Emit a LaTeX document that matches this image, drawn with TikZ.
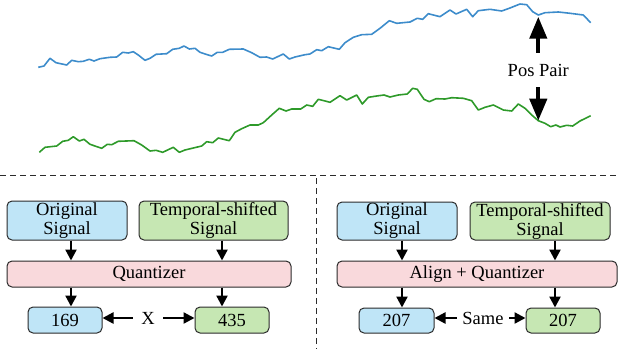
\documentclass[tikz,border=0pt]{standalone}
\usepackage{fontspec}
\setmainfont{Liberation Serif}
\newfontfamily\figfont{Liberation Serif}
\usepackage{tikz}
\usetikzlibrary{arrows.meta}

\definecolor{boxblue}{HTML}{BFE5F7}
\definecolor{boxgreen}{HTML}{C6E7B3}
\definecolor{boxpink}{HTML}{F9D9DC}
\definecolor{sigblue}{HTML}{3D8CCB}
\definecolor{siggreen}{HTML}{2E9A2A}
\definecolor{edge}{HTML}{2B2B2B}

\tikzset{
  box/.style={draw=edge, line width=1pt, rounded corners=5pt, align=center,
    inner sep=0pt, font=\figfont\fontsize{18.5}{19}\selectfont},
  origbox/.style={box, fill=boxblue},
  shiftbox/.style={box, fill=boxgreen},
  quantbox/.style={box, fill=boxpink},
  lbl/.style={inner sep=0pt, font=\figfont\fontsize{18.5}{19}\selectfont},
  arr/.style={line width=2.3pt, -{Triangle[width=11pt,length=11pt]}},
  bigarr/.style={line width=4.2pt, -{Triangle[width=17pt,length=22pt]}},
  sep/.style={draw=edge, line width=1pt, dash pattern=on 6pt off 4pt},
  sigline/.style={line width=1.6pt, line join=round}
}

\begin{document}
\begin{tikzpicture}[x=1pt,y=-1pt]
  \useasboundingbox (0,0) rectangle (619,349);

  % signals
  \draw[sigline, sigblue] plot coordinates {(38.3,67.3) (44,66) (50,58.3) (56,62.7) (66.7,65) (71.7,60.3) (78.3,61.7) (83.3,61.3) (89.3,59.3) (94,61) (100,58.7) (110,57.3) (116.7,57) (122.7,52.3) (128.3,53) (133.3,51.7) (138.3,55) (145,60.3) (150,58.3) (156,54.3) (166.7,53.7) (172.7,49.3) (179.3,48.3) (184,46) (189.3,49) (195,48.3) (200,52.3) (206,54.3) (211.7,56) (217.3,52.3) (222.7,52.3) (229.3,49.3) (243.3,49) (251.7,52.7) (260,57.3) (266.7,57) (272.7,59) (283.3,54) (289.3,59) (295,57) (305,54.7) (310,54) (316.7,49.7) (321.7,50.7) (328.3,46.7) (339.3,49.3) (345,42.7) (353.3,37.3) (361.7,34.7) (371.7,34.3) (380,28.3) (389.3,20.7) (396.7,23.3) (410,22) (417.3,18.3) (422.7,19.3) (428.3,13.7) (440,16.7) (450,10) (456,14) (466.7,9.3) (472.7,16.7) (478.3,10.7) (490,9.3) (501.7,11) (510,8) (520,4) (526.7,4.7) (532.7,11.7) (538.3,15) (545,12.7) (558.3,12) (570,13.3) (583.3,15) (590.7,22.7)};
  \draw[sigline, siggreen] plot coordinates {(39.3,152.3) (45,147.3) (56.7,146) (62.7,141.3) (68.3,140.3) (73.3,136.7) (79.3,141) (84,139.3) (90,144.3) (101.7,148.3) (107.3,144.3) (111.7,144.7) (118.3,141.3) (134,140.7) (141.7,145) (150,151) (156,150.3) (162.7,152.3) (173.3,147.3) (179.3,152.3) (185,150) (193.3,148) (201.7,146) (206.7,141.7) (212.7,142.7) (218.3,138) (229.3,140.7) (235,132.3) (241.7,128.7) (250,125) (258.3,125) (263.3,122.7) (271.7,115) (279.3,108.3) (286,111) (291.7,109) (300.7,109) (306.7,105) (312.7,106.3) (318.3,99.3) (324,100.7) (330,102.3) (340,95.7) (346.7,100) (356.7,95) (362.3,104) (368.3,97.3) (376.7,96) (384,95) (390,97) (398.3,95) (407.3,94) (412.7,88.3) (417.3,89.3) (424,99.3) (429.3,101.7) (436,98.7) (445,99) (451.7,97.7) (463.3,98.3) (471.7,100.7) (478.3,110) (485,107.3) (493.3,105) (503.3,110) (511.7,111) (518.3,104) (525,108.3) (531.7,115) (538.3,120.7) (545,123.3) (550.7,126.7) (556,125) (560,127) (566.7,125.3) (572.7,126) (580,121) (590.7,115.7)};

  \coordinate (blueDip) at (538.3,16.7);
  \coordinate (greenDip) at (538.3,120.7);
  \node[lbl, minimum height=34pt] (pos) at (538.3,70) {Pos Pair};
  \draw[bigarr] (pos.north) -- (blueDip);
  \draw[bigarr] (pos.south) -- (greenDip);

  % separators
  \coordinate (sepW) at (0,175);
  \coordinate (sepE) at (619,175);
  \coordinate (sepN) at (316,178);
  \coordinate (sepS) at (316,349);
  \draw[sep] (sepW) -- (sepE);
  \draw[sep] (sepN) -- (sepS);

  % left: plain quantizer
  \node[origbox, minimum width=120pt, minimum height=39pt] (origL) at (67,220.5) {Original\\Signal};
  \node[shiftbox, minimum width=149pt, minimum height=39pt] (shiftL) at (213.5,220.5) {Temporal-shifted\\Signal};
  \node[quantbox, minimum width=284pt, minimum height=26pt] (quantL) at (149,274) {Quantizer};
  \node[origbox, minimum width=74pt, minimum height=26pt] (codeA) at (65,320) {169};
  \node[shiftbox, minimum width=74pt, minimum height=26pt] (codeB) at (232,320) {435};
  \node[lbl, minimum width=30pt] (diff) at (148,318) {X};

  \draw[arr] (origL.south -| 71,0) -- (quantL.north -| 71,0);
  \draw[arr] (shiftL.south -| 222,0) -- (quantL.north -| 222,0);
  \draw[arr] (quantL.south -| 71,0) -- (codeA.north -| 71,0);
  \draw[arr] (quantL.south -| 222,0) -- (codeB.north -| 222,0);
  \draw[arr] (diff.west) -- (diff.west -| codeA.east);
  \draw[arr] (diff.east) -- (diff.east -| codeB.west);

  % right: align + quantizer
  \node[origbox, minimum width=120pt, minimum height=38pt] (origR) at (397,221) {Original\\Signal};
  \node[shiftbox, minimum width=140pt, minimum height=38pt] (shiftR) at (540,221) {Temporal-shifted\\Signal};
  \node[quantbox, minimum width=280pt, minimum height=26pt] (quantR) at (477,274) {Align + Quantizer};
  \node[origbox, minimum width=75pt, minimum height=25pt] (codeC) at (396.5,320.5) {207};
  \node[shiftbox, minimum width=74pt, minimum height=25pt] (codeD) at (563,320.5) {207};
  \node[lbl, minimum width=52pt] (same) at (483,318) {Same};

  \draw[arr] (origR.south -| 402,0) -- (quantR.north -| 402,0);
  \draw[arr] (shiftR.south -| 555,0) -- (quantR.north -| 555,0);
  \draw[arr] (quantR.south -| 402,0) -- (codeC.north -| 402,0);
  \draw[arr] (quantR.south -| 555,0) -- (codeD.north -| 555,0);
  \draw[arr] (same.west) -- (same.west -| codeC.east);
  \draw[arr] (same.east) -- (same.east -| codeD.west);
\end{tikzpicture}
\end{document}
